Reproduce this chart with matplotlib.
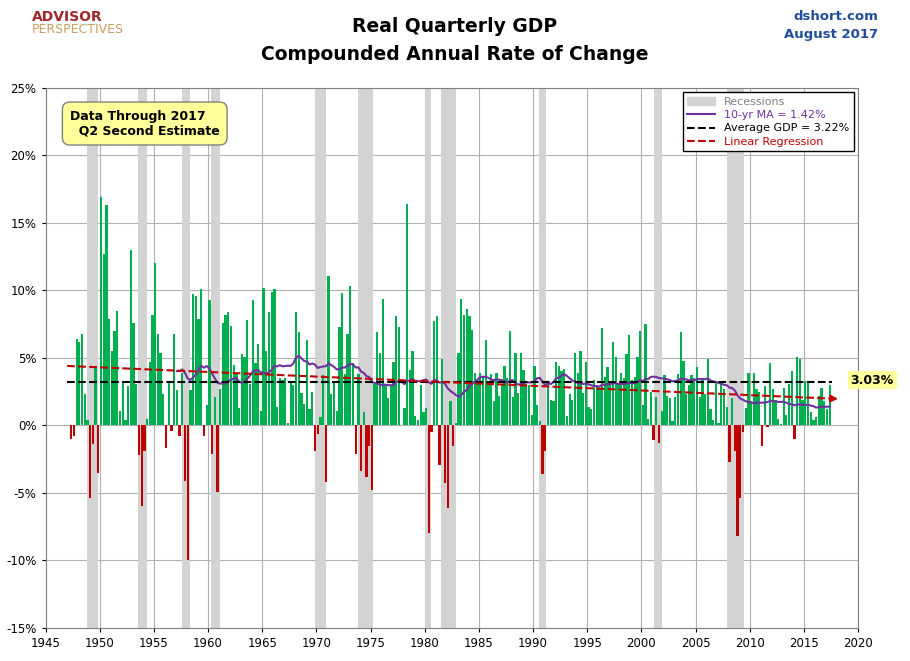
import numpy as np
import matplotlib.pyplot as plt
from matplotlib.patches import Patch
from matplotlib.lines import Line2D

start_year = 1947.25
gdp = [-1.0,-0.8,6.4, 6.2,6.8,2.3,0.4, -5.4,-1.4,4.4,-3.5, 16.9,12.7,16.3,7.9,
 5.5,7.0,8.5,1.1, 3.3,0.4,2.9,13.0, 7.6,3.1,-2.2,-6.0, -1.9,0.5,4.7,8.2,
 12.0,6.8,5.4,2.3, -1.7,3.2,-0.4,6.8, 2.6,-0.8,3.9,-4.1, -10.0,2.6,9.7,9.6,
 7.9,10.1,-0.8,1.5, 9.3,-2.1,2.1,-4.9, 2.7,7.6,8.2,8.4, 7.4,4.5,3.8,1.3,
 5.3,5.1,7.8,3.1, 9.3,4.6,6.0,1.1, 10.2,5.5,8.4,9.9, 10.1,1.4,3.5,3.4,
 3.5,0.2,3.2,3.0, 8.4,6.9,2.4,1.6, 6.3,1.2,2.5,-1.9, -0.6,0.6,3.7,-4.2,
 11.1,2.3,3.2,1.1, 7.3,9.8,3.8,6.8, 10.3,4.6,-2.1,3.8, -3.4,1.0,-3.8,-1.5,
 -4.8,3.1,6.9,5.4, 9.4,3.0,2.0,2.9, 4.7,8.1,7.3,0.0, 1.3,16.4,4.1,5.5,
 0.7,0.4,3.0,1.0, 1.3,-8.0,-0.5,7.7, 8.1,-2.9,4.9,-4.3, -6.1,1.8,-1.5,0.2,
 5.4,9.4,8.2,8.6, 8.1,7.1,3.9,3.3, 3.9,3.6,6.3,3.0, 3.8,1.8,3.9,2.2,
 3.0,4.4,3.5,7.0, 2.1,5.4,2.4,5.4, 4.1,3.1,3.0,0.8, 4.4,1.5,0.3,-3.6,
 -1.9,3.1,1.9,1.8, 4.7,4.4,4.0,4.2, 0.7,2.3,1.9,5.4, 3.9,5.5,2.4,4.7,
 1.4,1.2,3.4,2.9, 2.7,7.2,3.6,4.3, 3.1,6.2,5.1,3.1, 3.9,3.5,5.3,6.7,
 3.4,3.6,5.1,7.0, 1.5,7.5,0.5,2.5, -1.1,2.1,-1.3,1.1, 3.7,2.2,2.0,0.3,
 2.1,3.8,6.9,4.8, 2.3,3.0,3.7,3.5, 4.3,2.1,3.4,2.3, 4.9,1.2,0.4,3.2,
 0.2,3.1,2.7,1.4, -2.7,2.0,-1.9,-8.2, -5.4,-0.5,1.3,3.9, 1.7,3.9,2.7,2.5,
 -1.5,2.9,-0.1,4.6, 2.7,1.9,0.5,0.1, 2.8,0.8,3.1,4.0, -1.0,5.1,4.9,1.9,
 3.3,3.3,1.0,0.4, 0.6,2.2,2.8,1.8, 1.2,3.0]
recessions = [(1948.85,1949.8),(1953.5,1954.35),(1957.6,1958.3),(1960.3,1961.1),
 (1969.9,1970.9),(1973.85,1975.2),(1980.0,1980.55),(1981.5,1982.9),
 (1990.55,1991.2),(2001.2,2001.9),(2007.9,2009.5)]

vals = np.array(gdp)
x = start_year + np.arange(len(vals))/4
fig = plt.figure(figsize=(9.1,6.61), dpi=100)
ax = fig.add_axes([0.050, 0.05, 0.893, 0.817])
for a,b in recessions:
    ax.axvspan(a,b,color='#d3d3d3',zorder=1,lw=0)
cols = np.where(vals>=0,'#00b050','#c00000')
ax.bar(x+0.125, vals, width=0.21, color=cols, zorder=2, lw=0)
ma = np.convolve(vals, np.ones(40)/40, mode='valid')
ax.plot(x[39:]+0.125, ma, color='#7030a0', lw=1.5, zorder=4)
avg = 3.22
ax.plot([1947,2017.6],[avg,avg],'k--',lw=1.5,zorder=5)
p = np.polyfit(x, vals, 1)
xs = np.array([1947,2017.6])
ax.plot(xs, np.polyval(p,xs),'--',color='#c00000',lw=1.5,zorder=5)
ax.annotate('', xy=(2018.4,np.polyval(p,2018.4)), xytext=(2017.4,np.polyval(p,2017.4)),
            arrowprops=dict(arrowstyle='-|>',color='#c00000',lw=1.5),zorder=6)
ax.text(2019.3,3.35,'3.03%',fontsize=9,fontweight='bold',va='center',
        bbox=dict(fc='#ffff99',ec='none',pad=2),zorder=7)
ax.set_xlim(1945,2020); ax.set_ylim(-15,25)
ax.set_xticks(range(1945,2021,5)); ax.set_yticks(range(-15,26,5))
ax.set_yticklabels([f'{v}%' for v in range(-15,26,5)])
ax.tick_params(labelsize=8.5,length=3)
ax.grid(True,color='#b0b0b0',lw=0.8,zorder=0); ax.set_axisbelow(True)
for s in ax.spines.values(): s.set_color('#808080')
h=[Patch(color='#d3d3d3',label='Recessions'),
   Line2D([],[],color='#7030a0',lw=1.5,label='10-yr MA = 1.42%'),
   Line2D([],[],color='k',ls='--',lw=1.5,label='Average GDP = 3.22%'),
   Line2D([],[],color='#c00000',ls='--',lw=1.5,label='Linear Regression')]
leg=ax.legend(handles=h,loc='upper right',fontsize=8,framealpha=1,fancybox=False,
              edgecolor='k',borderaxespad=0.4,handlelength=2.5,labelspacing=0.3)
for t,c in zip(leg.get_texts(),['#808080','#7030a0','k','#c00000']): t.set_color(c)
ax.text(0.03,0.96,'Data Through 2017\n  Q2 Second Estimate',transform=ax.transAxes,
        fontsize=9,fontweight='bold',va='top',
        bbox=dict(boxstyle='round,pad=0.6',fc='#ffff99',ec='#808080'))
fig.text(0.5,0.96,'Real Quarterly GDP',ha='center',va='center',fontsize=13.5,fontweight='bold')
fig.text(0.5,0.917,'Compounded Annual Rate of Change',ha='center',va='center',fontsize=13.5,fontweight='bold')
fig.text(0.965,0.975,'dshort.com',ha='right',va='center',fontsize=9.5,fontweight='bold',color='#1f4e99')
fig.text(0.965,0.948,'August 2017',ha='right',va='center',fontsize=9.5,fontweight='bold',color='#1f4e99')
fig.text(0.035,0.975,'ADVISOR',fontsize=10,fontweight='bold',color='#a0262c',va='center')
fig.text(0.035,0.955,'PERSPECTIVES',fontsize=9,color='#c8a060',va='center')
fig.savefig('out.png',dpi=100)
